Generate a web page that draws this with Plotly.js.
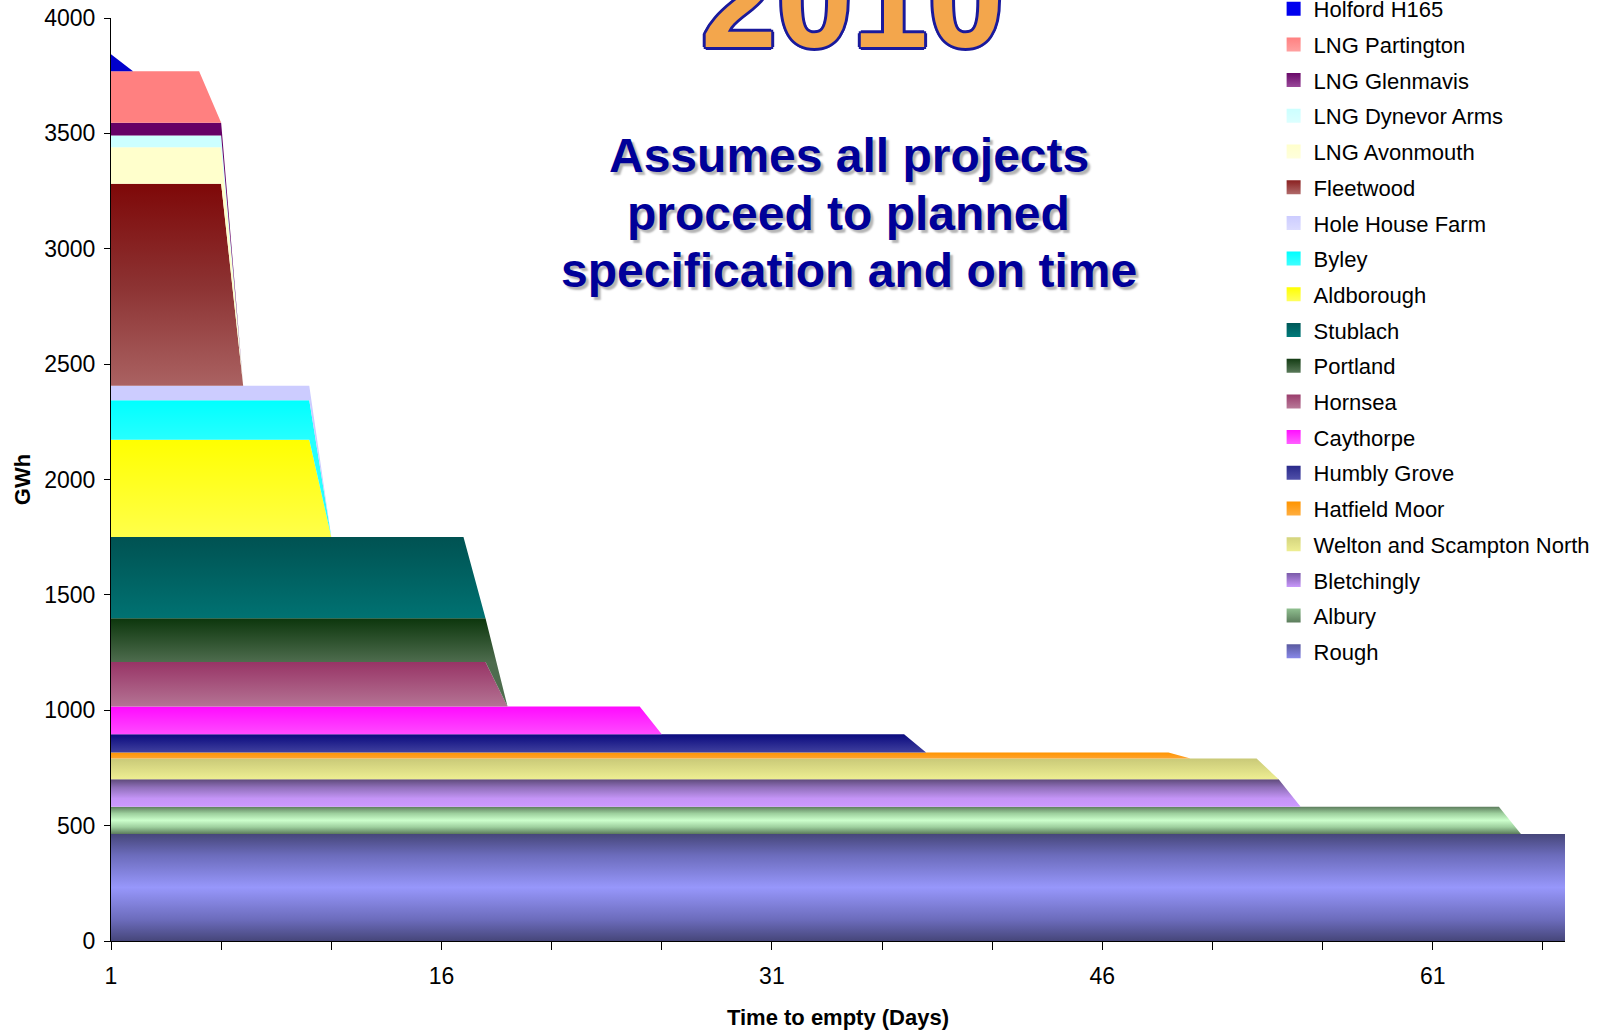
<!DOCTYPE html>
<html>
<head>
<meta charset="utf-8">
<script src="https://cdn.plot.ly/plotly-3.0.1.min.js"></script>
<style>
html,body{margin:0;padding:0;background:#fff;}
#chart{width:1608px;height:1033px;}
</style>
</head>
<body>
<div id="chart"></div>
<script>
// ---------------- DATA ----------------
// Storage sites, stacked from the bottom of the chart to the top
const seriesNames = [
  'Rough', 'Albury', 'Bletchingly', 'Welton and Scampton North', 'Hatfield Moor',
  'Humbly Grove', 'Caythorpe', 'Hornsea', 'Portland', 'Stublach',
  'Aldborough', 'Byley', 'Hole House Farm', 'Fleetwood', 'LNG Avonmouth',
  'LNG Dynevor Arms', 'LNG Glenmavis', 'LNG Partington', 'Holford H165'
];
// Deliverable stock (GWh) held while the site is still delivering
const stockGWh = [464, 118, 119, 90, 26, 79, 120, 193, 190, 352, 421, 171, 63, 876, 158, 51, 55, 223, 74];
// Last day on which the site still delivers (empty the following day)
const lastDay = [67, 64, 54, 53, 49, 37, 25, 18, 18, 17, 10, 10, 10, 6, 6, 6, 6, 5, 1];
// Category axis: days 1..67
const dayCategories = Array.from({length: 67}, (_, i) => i + 1);
const xTickDays  = [1, 6, 11, 16, 21, 26, 31, 36, 41, 46, 51, 56, 61, 66];
const xTickText  = ['1', '', '', '16', '', '', '31', '', '', '46', '', '', '61', ''];
const yTickVals  = [0, 500, 1000, 1500, 2000, 2500, 3000, 3500, 4000];
const titleYear  = '2010';
const noteLines  = ['Assumes all projects', 'proceed to planned', 'specification and on time'];

// ---------------- STYLES ----------------
// colourscale 0 = bottom of band, 1 = top of band
const fillStyles = [
  [[0,'#46467a'],[0.2,'#6c6cbc'],[0.5,'#9797fb'],[0.8,'#6c6cbc'],[1,'#46467a']],
  [[0,'#5c7c5c'],[0.25,'#9dcf9d'],[0.5,'#ccffcc'],[0.75,'#9dcf9d'],[1,'#5c7c5c']],
  [[0,'#cc99ff'],[0.3,'#c494f6'],[0.7,'#9070ba'],[1,'#5e4a7a']],
  [[0,'#eeee92'],[1,'#c9c978']],
  [[0,'#ffa42e'],[1,'#ff9400']],
  [[0,'#40409e'],[1,'#0a0a7e']],
  [[0,'#ff4aff'],[1,'#ff0aff']],
  [[0,'#b47494'],[1,'#983466']],
  [[0,'#4e6c4e'],[1,'#0c360c']],
  [[0,'#007272'],[1,'#005252']],
  [[0,'#ffff4a'],[1,'#ffff00']],
  [[0,'#26ffff'],[1,'#00ffff']],
  '#ccccff',
  [[0,'#aa6262'],[0.5,'#8c3232'],[1,'#7e0808']],
  '#ffffcc',
  '#ccffff',
  '#660066',
  '#ff8080',
  '#0000cc'
];
// legend swatches: [top colour, bottom colour]
const swatchStyles = [
  ['#5a5aa0', '#8888e8'],
  ['#8fbf8f', '#5c7c5c'],
  ['#7a5aa8', '#c898fa'],
  ['#d4d47e', '#eeee92'],
  ['#ff9400', '#ffae40'],
  ['#2a2a8a', '#5050aa'],
  ['#ff10ff', '#ff60ff'],
  ['#9a3c6c', '#b87a98'],
  ['#143c14', '#587858'],
  ['#005858', '#007a7a'],
  ['#ffff00', '#ffff60'],
  ['#00ffff', '#40ffff'],
  ['#ccccff', '#dcdcff'],
  ['#8a2020', '#b06a6a'],
  ['#ffffcc', '#ffffdc'],
  ['#ccffff', '#dcffff'],
  ['#6a0a6a', '#9a4a9a'],
  ['#ff8080', '#ffa0a0'],
  ['#0000ee', '#0000ee']
];

// ---------------- TRACES ----------------
const traces = [];
let base = 0;
seriesNames.forEach((name, i) => {
  const yVals = dayCategories.map(d => (d <= lastDay[i] ? stockGWh[i] : 0));
  const bandBottom = base;
  const bandTop = base + stockGWh[i];
  base = bandTop;
  const st = fillStyles[i];
  const tr = {
    type: 'scatter',
    mode: 'lines',
    name: name,
    x: dayCategories,
    y: yVals,
    stackgroup: 'one',
    fill: i === 0 ? 'tozeroy' : 'tonexty',
    line: {width: 0, color: typeof st === 'string' ? st : st[st.length - 1][1]},
    showlegend: false,
    hoverinfo: 'skip'
  };
  if (typeof st === 'string') {
    tr.fillcolor = st;
  } else {
    tr.fillgradient = {type: 'vertical', colorscale: st, start: bandBottom, stop: bandTop};
  }
  traces.push(tr);
});
// legend entries, listed top of the stack first (as in the original legend)
for (let i = seriesNames.length - 1; i >= 0; i--) {
  traces.push({
    type: 'scatter',
    mode: 'markers',
    name: seriesNames[i],
    x: [null],
    y: [null],
    legendgroup: seriesNames[i],
    showlegend: true,
    hoverinfo: 'skip',
    marker: {
      symbol: 'square',
      size: 14,
      color: swatchStyles[i][0],
      gradient: {type: 'vertical', color: swatchStyles[i][1]},
      line: {width: 0}
    }
  });
}

// ---------------- LAYOUT ----------------
const FONT = 'Liberation Sans, Arial, sans-serif';
const outline = '#1a1a9c';
const layout = {
  width: 1608,
  height: 1033,
  margin: {l: 111, r: 43, t: 17.5, b: 92, autoexpand: false},
  paper_bgcolor: '#ffffff',
  plot_bgcolor: '#ffffff',
  font: {family: FONT, color: '#000000', size: 22},
  showlegend: true,
  xaxis: {
    range: [1, 67],
    tickmode: 'array',
    tickvals: xTickDays,
    ticktext: xTickText,
    ticks: 'outside',
    ticklen: 8,
    tickwidth: 1,
    tickcolor: '#000',
    showline: true,
    linecolor: '#000',
    linewidth: 1,
    showgrid: false,
    zeroline: false,
    tickfont: {family: FONT, size: 23, color: '#000'},
    ticklabelstandoff: 6,
    title: {text: 'Time to empty (Days)', font: {family: FONT, size: 22, weight: 'bold', color: '#000'}, standoff: 22}
  },
  yaxis: {
    range: [0, 4000],
    tickmode: 'array',
    tickvals: yTickVals,
    ticks: 'outside',
    ticklen: 6,
    tickwidth: 1,
    tickcolor: '#000',
    showline: true,
    linecolor: '#000',
    linewidth: 1,
    showgrid: false,
    zeroline: false,
    tickfont: {family: FONT, size: 23, color: '#000'},
    ticklabelstandoff: 4,
    title: {text: 'GWh', font: {family: FONT, size: 22, weight: 'bold', color: '#000'}, standoff: 7}
  },
  legend: {
    x: 0.7996,
    xanchor: 'left',
    y: 1.0326,
    yanchor: 'top',
    traceorder: 'grouped',
    tracegroupgap: 4.1,
    maxheight: 1000,
    bgcolor: 'rgba(0,0,0,0)',
    borderwidth: 0,
    font: {family: FONT, size: 22, color: '#000'}
  },
  annotations: [
    {
      xref: 'paper', yref: 'paper', x: 0.5103, y: 1.020, xanchor: 'center', yanchor: 'middle',
      text: titleYear, showarrow: false,
      font: {family: FONT, size: 136, weight: 'bold', color: '#f3a64c',
        shadow: `3px 0 0 ${outline}, -3px 0 0 ${outline}, 0 3px 0 ${outline}, 0 -3px 0 ${outline}, 2px 2px 0 ${outline}, -2px -2px 0 ${outline}, 2px -2px 0 ${outline}, -2px 2px 0 ${outline}`}
    }
  ].concat(noteLines.map((t, k) => ({
      xref: 'paper', yref: 'paper', x: 0.5074, y: [0.8510, 0.7887, 0.7265][k], xanchor: 'center', yanchor: 'middle',
      text: t, showarrow: false,
      font: {family: FONT, size: 48, weight: 'bold', color: '#000099', shadow: '3px 3px 2px #b4b4b4'}
  })))
};

Plotly.newPlot('chart', traces, layout, {displayModeBar: false, staticPlot: true});
</script>
</body>
</html>
